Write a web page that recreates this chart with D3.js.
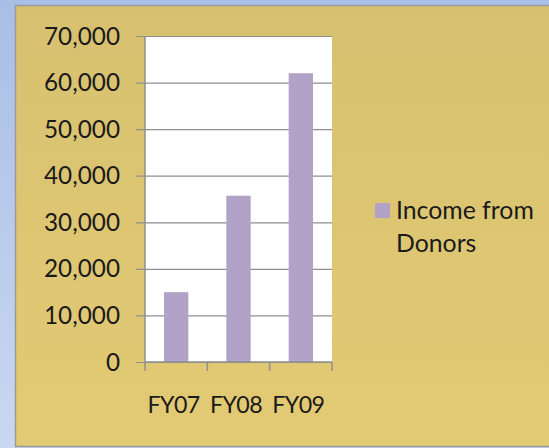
<!DOCTYPE html>
<html><head><meta charset="utf-8">
<script src="https://cdn.jsdelivr.net/npm/d3@7"></script>
<style>html,body{margin:0;padding:0;overflow:hidden;background:#b4c7ea;}</style>
</head><body>
<svg id="c" width="549" height="448"></svg>
<script>
const categories = ["FY07", "FY08", "FY09"];
const values = [15000, 35700, 62000];
const seriesName = ["Income from", "Donors"];
const yTicks = [0, 10000, 20000, 30000, 40000, 50000, 60000, 70000];

const svg = d3.select("#c");
const defs = svg.append("defs");
const bg = defs.append("linearGradient").attr("id","bg").attr("x1",0).attr("y1",0).attr("x2",0).attr("y2",1);
bg.append("stop").attr("offset","0%").attr("stop-color","#a9bee6");
bg.append("stop").attr("offset","100%").attr("stop-color","#c9d8f1");
const gd = defs.append("linearGradient").attr("id","gd").attr("x1",0).attr("y1",0).attr("x2",0).attr("y2",1);
gd.append("stop").attr("offset","0%").attr("stop-color","#d7c170");
gd.append("stop").attr("offset","100%").attr("stop-color","#e3ca74");

svg.append("rect").attr("width",549).attr("height",448).attr("fill","url(#bg)");
svg.append("rect").attr("x",15.5).attr("y",5.5).attr("width",540).attr("height",441)
  .attr("fill","url(#gd)").attr("stroke","#9a9a9a").attr("stroke-width",1.5);

const L = 145, R = 332, T = 36, B = 362;
const x = d3.scaleBand().domain(categories).range([L, R]).paddingInner(0.61).paddingOuter(0.305);
const y = d3.scaleLinear().domain([0, 70000]).range([B, T]);

svg.append("rect").attr("x",L).attr("y",T).attr("width",R-L).attr("height",B-T).attr("fill","#fff");

const font = "Lato, 'Open Sans', sans-serif";
const yAxis = d3.axisLeft(y).tickValues(yTicks).tickSize(-(R-L)).tickPadding(25)
  .tickFormat(d3.format(","));
const gy = svg.append("g").attr("transform",`translate(${L},0)`).call(yAxis);
gy.select(".domain").remove();
gy.selectAll(".tick line").attr("stroke","#8f8f8f").attr("stroke-width",1.2).attr("x1",-9);
gy.selectAll(".tick text").attr("font-family",font).attr("font-size",24.3).attr("fill","#1a1a1a").attr("dy","0.33em");

svg.append("g").selectAll("rect").data(values).join("rect")
  .attr("x",(d,i)=>x(categories[i])).attr("width",x.bandwidth())
  .attr("y",d=>y(d)).attr("height",d=>B-y(d)).attr("fill","#b3a2c7");

// axes lines
svg.append("line").attr("x1",L).attr("x2",L).attr("y1",T).attr("y2",B).attr("stroke","#8f8f8f").attr("stroke-width",1.5);
svg.append("line").attr("x1",L).attr("x2",R).attr("y1",B).attr("y2",B).attr("stroke","#8f8f8f").attr("stroke-width",1.5);
const bounds = [0,1,2,3].map(i => L + i*(R-L)/3);
svg.append("g").selectAll("line").data(bounds).join("line")
  .attr("x1",d=>d).attr("x2",d=>d).attr("y1",B).attr("y2",B+9).attr("stroke","#8f8f8f").attr("stroke-width",1.5);
svg.append("g").selectAll("text").data(categories).join("text")
  .attr("x",d=>x(d)+x.bandwidth()/2-2.5).attr("y",413).attr("text-anchor","middle")
  .attr("font-family",font).attr("font-size",23.2).attr("letter-spacing","-0.6px").attr("fill","#1a1a1a").text(d=>d);

// legend
svg.append("rect").attr("x",375).attr("y",203).attr("width",15).attr("height",15).attr("fill","#b3a2c7");
svg.append("g").selectAll("text").data(seriesName).join("text")
  .attr("x",396).attr("y",(d,i)=>218.5+i*33).attr("font-family",font).attr("font-size",24.8).attr("fill","#1a1a1a").text(d=>d);
</script>
</body></html>
